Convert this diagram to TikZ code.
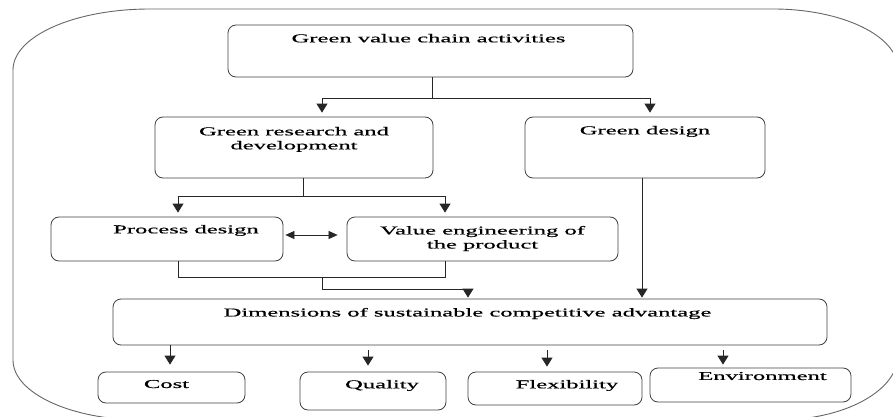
\documentclass[tikz,border=0pt]{standalone}
\usepackage{fontspec}
\setmainfont[FakeStretch=2.05,FakeBold=0.6]{Liberation Serif}
\usetikzlibrary{arrows.meta,calc}
\newcommand{\bxt}[5]{\parbox[c][#2pt][t]{#1pt}{\centering\vspace*{#3pt}\hspace*{#5pt}#4\par}}
\begin{document}
\begin{tikzpicture}[x=1pt,y=-1pt,
  box/.style={draw=black!75, line width=0.8pt, rounded corners=8pt, inner sep=0pt,
    font=\fontsize{12}{14}\selectfont},
  conn/.style={draw=black!85, line width=0.9pt},
  arr/.style={-{Triangle[width=11pt,length=9pt]}},
  darr/.style={{Triangle[width=8pt,length=9pt]}-{Triangle[width=8pt,length=9pt]}, line width=0.6pt}]
\useasboundingbox (0,0) rectangle (893,417);
\clip (0,0) rectangle (893,417);
% outer frame
\draw[draw=black!60, line width=0.9pt] (150,9) -- (773,9)
  arc[start angle=-90, end angle=0, x radius=125, y radius=60] -- (898,355)
  arc[start angle=0, end angle=90, x radius=120, y radius=65] -- (143,420)
  arc[start angle=90, end angle=180, x radius=130, y radius=60] -- (13,70)
  arc[start angle=180, end angle=270, x radius=137, y radius=61] -- cycle;
% boxes
\node[box] (GVC) at (430.5,51) {\bxt{405}{52}{9}{Green value chain activities}{-4}};
\node[box] (GRD) at (294,147.5) {\bxt{278}{61}{10}{Green research and\\development}{0}};
\node[box] (GD) at (645,147.5) {\bxt{240}{61}{9}{Green design}{0}};
\node[box] (PD) at (167,239) {\bxt{232}{44}{8}{Process design}{38}};
\node[box] (VE) at (482.5,239) {\bxt{271}{44}{9}{Value engineering of\\the product}{0}};
\node[box] (DIM) at (470,322) {\bxt{714}{46}{9}{Dimensions of sustainable competitive advantage}{-5}};
\node[box] (Cost) at (171.5,387.5) {\bxt{147}{31}{8}{Cost}{-10}};
\node[box] (Qual) at (373,391) {\bxt{146}{38}{8}{Quality}{18}};
\node[box] (Flex) at (555,388.5) {\bxt{174}{33}{8}{Flexibility}{24}};
\node[box] (Env) at (750.5,385) {\bxt{201}{34}{4}{Environment}{24}};
% connectors
\coordinate (j1) at ($(GVC.south)+(1.5,21)$);
\draw[conn] (GVC.south -| j1) -- (j1);
\draw[conn,arr] (j1) -| ($(GRD.north)+(28,-4)$);
\draw[conn,arr] (j1) -| ($(GD.north)+(5,-4)$);
\coordinate (j2) at ($(GRD.south)+(9,18)$);
\draw[conn] (GRD.south -| j2) -- (j2);
\draw[conn,arr] (j2) -| ($(PD.north)+(11,-4)$);
\draw[conn,arr] (j2) -| ($(VE.north)+(-37.5,-4)$);
\draw[conn,darr] ($(PD.east)+(2,-4)$) -- ($(VE.west)+(-9,-4)$);
\draw[conn,arr] ($(GD.south)+(-3,0)$) -- ($(DIM.north)+(172,-1)$);
\draw[conn] ($(PD.south)+(11,0)$) |- ($(VE.south)+(-37.5,16)$) -- ($(VE.south)+(-37.5,0)$);
\coordinate (j3) at ($(PD.south)+(155,16)$);
\draw[conn,arr] (j3) -- ++(0,12) -| ($(DIM.north)+(-2,-1)$);
\draw[conn,arr] ($(DIM.south -| Cost.north)+(-1.5,0)$) -- ($(Cost.north)+(-1.5,-7)$);
\draw[conn,arr] ($(DIM.south -| Qual.north)+(-5,5)$) -- ($(Qual.north)+(-5,-6)$);
\draw[conn,arr] ($(DIM.south -| Flex.north)+(-8,5)$) -- ($(Flex.north)+(-8,-5)$);
\draw[conn,arr] ($(DIM.south -| Env.north)+(-27.5,5)$) -- ($(Env.north)+(-27.5,-3)$);
\end{tikzpicture}
\end{document}
